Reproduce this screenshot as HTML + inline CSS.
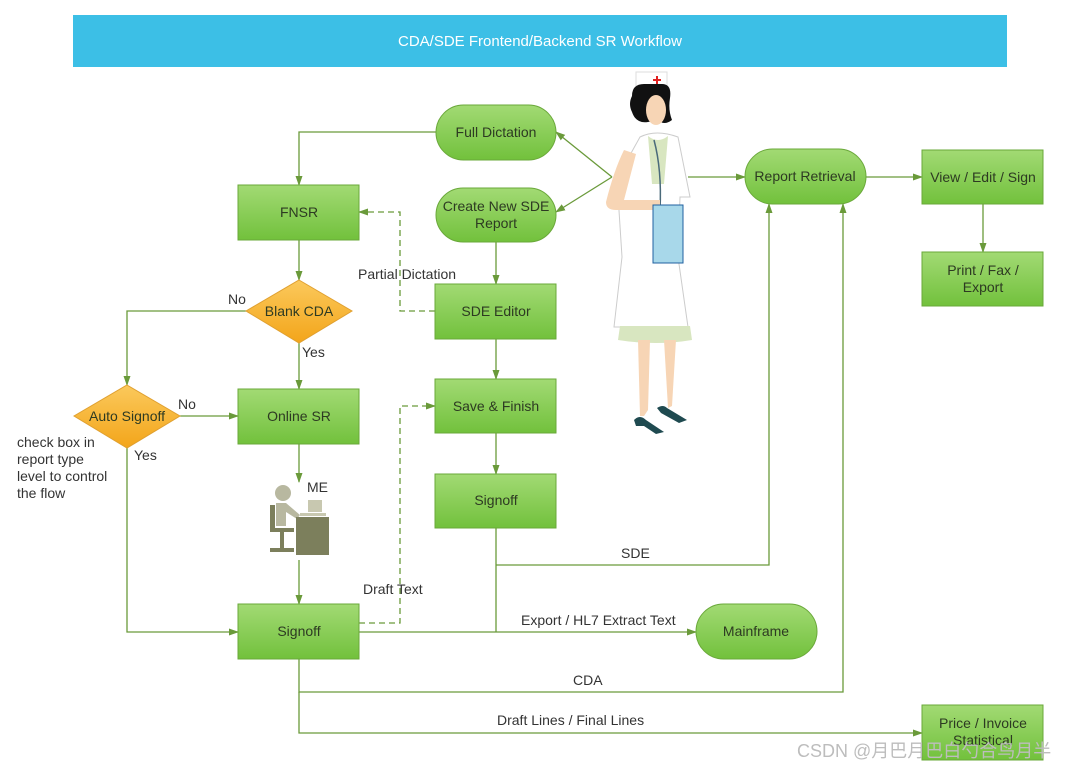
<!DOCTYPE html>
<html><head><meta charset="utf-8"><style>
html,body{margin:0;padding:0;background:#fff;width:1088px;height:770px;overflow:hidden}
text{font-family:"Liberation Sans","Noto Sans CJK SC",sans-serif;font-size:14px;fill:#333}
.bt{fill:#2d3a22;text-anchor:middle}
</style></head><body>
<svg width="1088" height="770" viewBox="0 0 1088 770" xmlns="http://www.w3.org/2000/svg">
<defs>
<linearGradient id="g" x1="0" y1="0" x2="0" y2="1"><stop offset="0" stop-color="#a2da74"/><stop offset="1" stop-color="#72c13c"/></linearGradient>
<linearGradient id="o" x1="0" y1="0" x2="0" y2="1"><stop offset="0" stop-color="#fbc95c"/><stop offset="1" stop-color="#f3a51a"/></linearGradient>
<marker id="a" markerWidth="10" markerHeight="8" refX="9" refY="4" orient="auto" markerUnits="userSpaceOnUse"><path d="M0,0.5 L10,4 L0,7.5 z" fill="#6a9a3a"/></marker>
</defs>
<rect x="73" y="15" width="934" height="52" fill="#3cbfe6"/>
<text x="540" y="46" text-anchor="middle" style="fill:#fff;font-size:15px">CDA/SDE Frontend/Backend SR Workflow</text>

<g fill="none" stroke="#6a9a3a" stroke-width="1.3">
<path d="M436,132 H299 V185" marker-end="url(#a)"/>
<path d="M299,240 V280" marker-end="url(#a)"/>
<path d="M246,311 H127 V385" marker-end="url(#a)"/>
<path d="M299,343 V389" marker-end="url(#a)"/>
<path d="M180,416 H238" marker-end="url(#a)"/>
<path d="M127,448 V632 H238" marker-end="url(#a)"/>
<path d="M299,444 V482" marker-end="url(#a)"/>
<path d="M299,560 V604" marker-end="url(#a)"/>
<path d="M435,311 H400 V212 H359" stroke-dasharray="6,4" marker-end="url(#a)"/>
<path d="M359,623 H400 V406 H435" stroke-dasharray="6,4" marker-end="url(#a)"/>
<path d="M496,242 V284" marker-end="url(#a)"/>
<path d="M496,339 V379" marker-end="url(#a)"/>
<path d="M496,433 V474" marker-end="url(#a)"/>
<path d="M496,528 V632"/>
<path d="M496,565 H769 V204" marker-end="url(#a)"/>
<path d="M359,632 H696" marker-end="url(#a)"/>
<path d="M299,659 V692 H843 V204" marker-end="url(#a)"/>
<path d="M299,692 V733 H922" marker-end="url(#a)"/>
<path d="M612,177 L556,132" marker-end="url(#a)"/>
<path d="M612,177 L556,212" marker-end="url(#a)"/>
<path d="M688,177 H745" marker-end="url(#a)"/>
<path d="M866,177 H922" marker-end="url(#a)"/>
<path d="M983,204 V252" marker-end="url(#a)"/>
</g>

<g stroke="#6aa83a" stroke-width="1" fill="url(#g)">
<rect x="238" y="185" width="121" height="55"/>
<rect x="238" y="389" width="121" height="55"/>
<rect x="238" y="604" width="121" height="55"/>
<rect x="435" y="284" width="121" height="55"/>
<rect x="435" y="379" width="121" height="54"/>
<rect x="435" y="474" width="121" height="54"/>
<rect x="922" y="150" width="121" height="54"/>
<rect x="922" y="252" width="121" height="54"/>
<rect x="922" y="705" width="121" height="55"/>
<rect x="436" y="105" width="120" height="55" rx="27.5"/>
<rect x="436" y="188" width="120" height="54" rx="27"/>
<rect x="745" y="149" width="121" height="55" rx="27.5"/>
<rect x="696" y="604" width="121" height="55" rx="27.5"/>
</g>
<g stroke="#e0a030" fill="url(#o)">
<path d="M299,280 L352,311 L299,343 L246,311 z"/>
<path d="M127,385 L180,416 L127,448 L74,416 z"/>
</g>

<g class="bt">
<text x="299" y="217" class="bt">FNSR</text>
<text x="299" y="421" class="bt">Online SR</text>
<text x="299" y="636" class="bt">Signoff</text>
<text x="496" y="316" class="bt">SDE Editor</text>
<text x="496" y="411" class="bt">Save &amp; Finish</text>
<text x="496" y="505" class="bt">Signoff</text>
<text x="983" y="182" class="bt">View / Edit / Sign</text>
<text x="983" y="275" class="bt">Print / Fax /</text>
<text x="983" y="292" class="bt">Export</text>
<text x="983" y="728" class="bt">Price / Invoice</text>
<text x="983" y="745" class="bt">Statistical</text>
<text x="496" y="137" class="bt">Full Dictation</text>
<text x="496" y="211" class="bt">Create New SDE</text>
<text x="496" y="228" class="bt">Report</text>
<text x="805" y="181" class="bt">Report Retrieval</text>
<text x="756" y="636" class="bt">Mainframe</text>
<text x="299" y="316" class="bt">Blank CDA</text>
<text x="127" y="421" class="bt">Auto Signoff</text>
</g>

<text x="228" y="304">No</text>
<text x="302" y="357">Yes</text>
<text x="178" y="409">No</text>
<text x="134" y="460">Yes</text>
<text x="358" y="279">Partial Dictation</text>
<text x="363" y="594">Draft Text</text>
<text x="621" y="558">SDE</text>
<text x="521" y="625">Export / HL7 Extract Text</text>
<text x="573" y="685">CDA</text>
<text x="497" y="725">Draft Lines / Final Lines</text>
<text x="307" y="492">ME</text>
<text x="17" y="447">check box in</text>
<text x="17" y="464">report type</text>
<text x="17" y="481">level to control</text>
<text x="17" y="498">the flow</text>

<!-- ME icon -->
<g>
<circle cx="283" cy="493" r="8" fill="#b8b8a0"/>
<path d="M276,503 h10 l14,12 -3,4 -11,-7 v14 h-10 z" fill="#b8b8a0"/>
<rect x="270" y="505" width="5" height="25" fill="#7c7f5c"/>
<rect x="270" y="528" width="24" height="4" fill="#7c7f5c"/>
<rect x="280" y="532" width="4" height="18" fill="#7c7f5c"/>
<rect x="270" y="548" width="24" height="4" fill="#7c7f5c"/>
<rect x="308" y="500" width="14" height="12" fill="#c8c8b0"/>
<rect x="296" y="517" width="33" height="38" fill="#7c7f5c"/>
<rect x="300" y="513" width="26" height="3" fill="#c8c8b0"/>
</g>

<!-- nurse -->
<g>
<path d="M636,72 h31 v16 h-31 z" fill="#fff" stroke="#ddd"/>
<path d="M657,76 v8 M653,80 h8" stroke="#e02020" stroke-width="2"/>
<path d="M632,96 q0,-12 12,-12 h18 q10,0 8,14 q-2,12 2,22 q-8,6 -14,0 l-10,2 q-12,2 -16,-10 q-4,-8 0,-16 z" fill="#111"/>
<ellipse cx="656" cy="110" rx="10" ry="15" fill="#f7d5b5"/>
<path d="M640,137 q16,-8 38,0 l12,60 -10,0 -2,60 10,70 h-74 l8,-70 -4,-62 -8,-4 z" fill="#fff" stroke="#ccc"/>
<path d="M648,136 q10,8 20,0 l-4,48 h-12 z" fill="#d8e6c0"/>
<path d="M654,140 q8,30 6,70" fill="none" stroke="#4a6a7a" stroke-width="1.5"/>
<path d="M620,326 h70 l2,14 q-36,6 -74,0 z" fill="#d8e6c0"/>
<path d="M624,150 q-10,20 -18,52 q0,8 10,8 h44 v-10 h-36 l12,-46 z" fill="#f7d5b5"/>
<rect x="653" y="205" width="30" height="58" fill="#a8d8ea" stroke="#2060a0"/>
<path d="M638,340 h12 l-2,70 -4,6 -4,0 z M664,340 h12 l-4,66 -4,2 z" fill="#f7d5b5"/>
<path d="M634,420 q6,-6 12,0 l18,12 -8,2 -12,-8 -8,0 z M657,408 q6,-4 10,0 l20,12 -8,3 -18,-10 z" fill="#1f4a50"/>
</g>

<text x="797" y="757" style="fill:#bdbdbd;font-size:18px">CSDN @月巴月巴白勺合鸟月半</text>
</svg>
</body></html>
